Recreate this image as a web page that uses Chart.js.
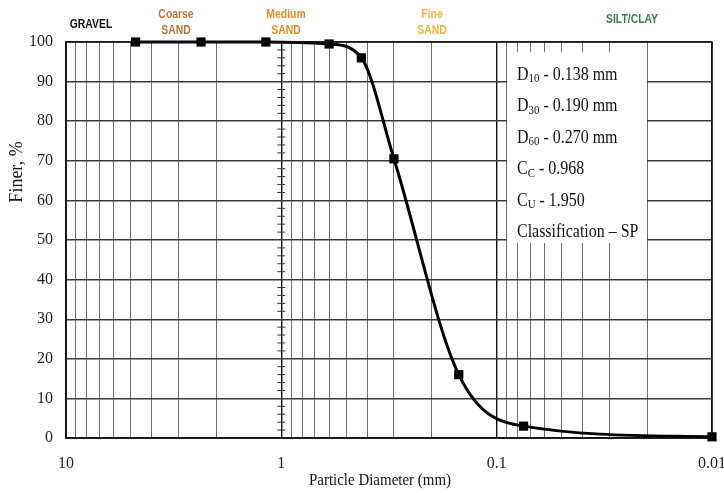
<!DOCTYPE html>
<html>
<head>
<meta charset="utf-8">
<script src="https://cdn.jsdelivr.net/npm/chart.js@4.4.1/dist/chart.umd.min.js"></script>
<style>
  html, body { margin: 0; padding: 0; background: #fff; }
  #wrap { width: 724px; height: 493px; position: relative; }
</style>
</head>
<body>
<div id="wrap"><canvas id="gradation-chart"></canvas></div>
<script>
// sieve sizes (mm) and percent finer
var sieveSizes = [4.75, 2.36, 1.18, 0.6, 0.425, 0.3, 0.15, 0.075, 0.01];
var percentFiner = [100, 100, 100, 99.5, 96, 70.5, 16, 3, 0.3];

var decadeValues = [10, 1, 0.1, 0.01];
var decadeLabels = ["10", "1", "0.1", "0.01"];

var soilBands = [
  { lines: ["GRAVEL"], color: "#111111", x: 91, y: 24 },
  { lines: ["Coarse", "SAND"], color: "#b8743c", x: 176, y: 14 },
  { lines: ["Medium", "SAND"], color: "#e08a2c", x: 286, y: 14 },
  { lines: ["Fine", "SAND"], color: "#f0b43c", x: 432, y: 14 },
  { lines: ["SILT/CLAY"], color: "#3c7d46", x: 632, y: 19 },
];

// summary box rows: [main, subscript, rest]
var summaryRows = [
  ["D", "10", " - 0.138 mm"],
  ["D", "30", " - 0.190 mm"],
  ["D", "60", " - 0.270 mm"],
  ["C", "C", " - 0.968"],
  ["C", "U", " - 1.950"],
  ["Classification \u2013 SP", "", ""],
];

// grid at every 1..9 multiple of each decade
var gridValues = [];
[0.01, 0.1, 1].forEach(function (d) {
  for (var k = 1; k < 10; k++) gridValues.push(+(d * k).toPrecision(3));
});
gridValues.push(10);

function isDecade(v) {
  return decadeValues.some(function (d) { return Math.abs(d - v) < 1e-9; });
}

var points = sieveSizes.map(function (s, i) { return { x: s, y: percentFiner[i] }; });

function squeezeText(ctx, text, x, y, sx) {
  ctx.save();
  ctx.translate(x, y);
  ctx.scale(sx, 1);
  ctx.fillText(text, 0, 0);
  ctx.restore();
}

var extras = {
  id: "extras",
  beforeDatasetsDraw: function (chart) {
    var ctx = chart.ctx;
    // white summary box hides the grid behind it
    ctx.save();
    ctx.fillStyle = "#ffffff";
    ctx.fillRect(507, 52, 140, 191);
    ctx.fillStyle = "#111";
    ctx.textBaseline = "middle";
    ctx.textAlign = "left";
    var sx = 0.84;
    summaryRows.forEach(function (r, i) {
      var y = 75 + i * 31.4;
      var x = 517;
      ctx.font = "19px 'Liberation Serif', serif";
      squeezeText(ctx, r[0], x, y, sx);
      x += ctx.measureText(r[0]).width * sx;
      if (r[1]) {
        ctx.font = "13px 'Liberation Serif', serif";
        squeezeText(ctx, r[1], x, y + 4, sx);
        x += ctx.measureText(r[1]).width * sx;
      }
      if (r[2]) {
        ctx.font = "19px 'Liberation Serif', serif";
        squeezeText(ctx, r[2], x, y, sx);
      }
    });
    ctx.restore();
  },
  afterDraw: function (chart) {
    var ctx = chart.ctx;
    var a = chart.chartArea;
    var xs = chart.scales.x;
    var ys = chart.scales.y;
    ctx.save();
    // frame
    ctx.strokeStyle = "#111";
    ctx.lineWidth = 1.5;
    ctx.strokeRect(a.left, a.top, a.right - a.left, a.bottom - a.top);

    // crossing axis at 1 mm with minor ticks
    var x1 = xs.getPixelForValue(1);
    ctx.lineWidth = 1;
    ctx.strokeStyle = "#333";
    for (var v = 2; v < 100; v += 2) {
      if (v % 10 === 0) continue;
      var py = ys.getPixelForValue(v);
      ctx.beginPath();
      ctx.moveTo(x1 - 4, py);
      ctx.lineTo(x1 + 4, py);
      ctx.stroke();
    }

    // soil band labels
    ctx.textAlign = "center";
    ctx.textBaseline = "middle";
    ctx.font = "bold 13px 'Liberation Sans', Arial, sans-serif";
    soilBands.forEach(function (b) {
      ctx.fillStyle = b.color;
      b.lines.forEach(function (t, i) {
        squeezeText(ctx, t, b.x, b.y + i * 16, 0.8);
      });
    });

    // axis titles
    ctx.fillStyle = "#111";
    ctx.font = "17px 'Liberation Serif', serif";
    squeezeText(ctx, "Particle Diameter (mm)", 380, 481, 0.88);
    ctx.save();
    ctx.translate(17, 172);
    ctx.rotate(-Math.PI / 2);
    ctx.font = "18px 'Liberation Serif', serif";
    ctx.fillText("Finer, %", 0, 0);
    ctx.restore();
    ctx.restore();
  },
};

new Chart(document.getElementById("gradation-chart"), {
  type: "line",
  data: {
    datasets: [
      {
        data: points,
        borderColor: "#000",
        borderWidth: 3,
        backgroundColor: "#000",
        pointStyle: "rect",
        pointRadius: 6.5,
        pointBackgroundColor: "#000",
        pointBorderWidth: 0,
        cubicInterpolationMode: "monotone",
        clip: false,
        fill: false,
      },
    ],
  },
  options: {
    responsive: true,
    maintainAspectRatio: false,
    animation: false,
    layout: { padding: { top: 42, right: 12, left: 0, bottom: 0 } },
    plugins: { legend: { display: false }, tooltip: { enabled: false } },
    scales: {
      x: {
        type: "logarithmic",
        reverse: true,
        min: 0.01,
        max: 10,
        afterBuildTicks: function (scale) {
          scale.ticks = gridValues.map(function (v) { return { value: v, major: isDecade(v) }; });
        },
        afterFit: function (scale) { scale.height = 55; },
        grid: {
          drawTicks: false,
          color: function (c) { return c.tick && isDecade(c.tick.value) ? "#111" : "#6e6e6e"; },
          lineWidth: function (c) { return c.tick && isDecade(c.tick.value) ? 1.4 : 1; },
        },
        border: { color: "#111", width: 1.5 },
        ticks: {
          autoSkip: false,
          maxRotation: 0,
          padding: 16,
          color: "#222",
          font: { family: "'Liberation Serif', serif", size: 16 },
          callback: function (value) {
            for (var i = 0; i < decadeValues.length; i++) {
              if (Math.abs(decadeValues[i] - value) < 1e-9) return decadeLabels[i];
            }
            return "";
          },
        },
      },
      y: {
        min: 0,
        max: 100,
        afterFit: function (scale) { scale.width = 66; },
        grid: { drawTicks: false, color: "#3a3a3a", lineWidth: 1.4 },
        border: { color: "#111", width: 1.5 },
        ticks: {
          stepSize: 10,
          padding: 13,
          color: "#222",
          font: { family: "'Liberation Serif', serif", size: 16 },
        },
      },
    },
  },
  plugins: [extras],
});
</script>
</body>
</html>
